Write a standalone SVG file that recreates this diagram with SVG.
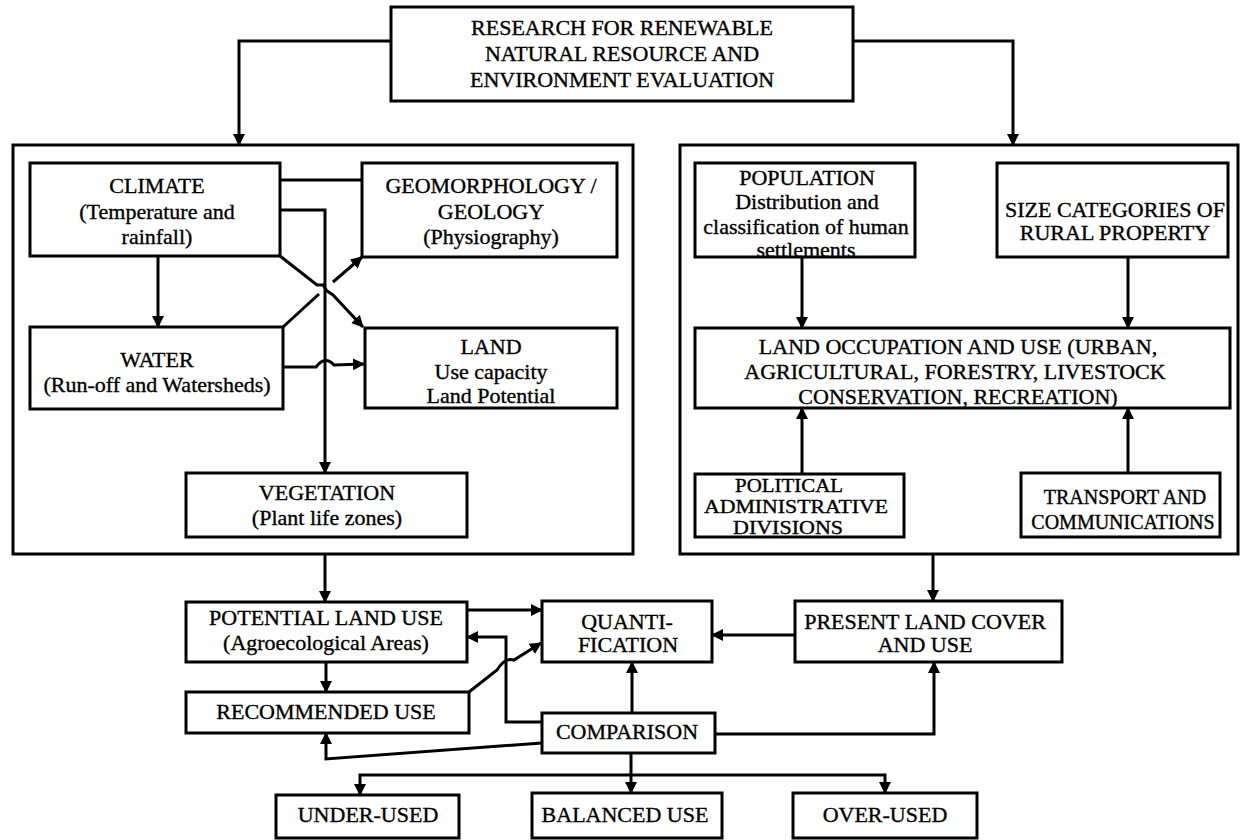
<svg xmlns="http://www.w3.org/2000/svg" width="1240" height="840" viewBox="0 0 1240 840">
<defs>
<marker id="ah" markerUnits="userSpaceOnUse" markerWidth="14" markerHeight="14" refX="11" refY="6" orient="auto">
<path d="M0,0 L12,6 L0,12 z" fill="#000"/>
</marker>
<style>
.box{fill:#fff;stroke:#000;stroke-width:3}
.outer{fill:none;stroke:#000;stroke-width:3}
.c{fill:none;stroke:#000;stroke-width:3}
.ca{fill:none;stroke:#000;stroke-width:3;marker-end:url(#ah)}
text{font-family:"Liberation Serif","Times New Roman",serif;font-size:22px;fill:#000;text-anchor:middle;stroke:#000;stroke-width:0.35}
.t20{font-size:20px}
.t18{font-size:18.5px}
</style>
</defs>
<rect width="1240" height="840" fill="#fff"/>

<g id="outer-left"><rect class="outer" x="13" y="145" width="620" height="409"/></g>
<g id="outer-right"><rect class="outer" x="680" y="145" width="558" height="409"/></g>

<g id="connectors">
<path class="ca" d="M391,41 H239 V145"/>
<path class="ca" d="M853,41 H1013 V145"/>
<path class="c" d="M280,180 H362"/>
<path class="ca" d="M280,210 H325 V473"/>
<path class="ca" d="M158,256 V327"/>
<path class="ca" d="M280,256 L317,285 L323,285 L327,291 L333,295 L363,327"/>
<path class="c" d="M283,327 L319,294"/>
<path class="ca" d="M333,282 L362,257"/>
<path class="ca" d="M283,367 H316 Q325,355 334,365 L364,364"/>
<path class="ca" d="M802,257 V328"/>
<path class="ca" d="M1128,257 V328"/>
<path class="ca" d="M802,474 V408"/>
<path class="ca" d="M1128,473 V408"/>
<path class="ca" d="M325,554 V602"/>
<path class="ca" d="M933,554 V601"/>
<path class="ca" d="M467,610 H542"/>
<path class="ca" d="M542,722 H506 V637 H467"/>
<path class="ca" d="M469,692 L497,670 Q505,657 514,660 L541,643"/>
<path class="ca" d="M326,662 V692"/>
<path class="ca" d="M542,743 L326,759 V733"/>
<path class="ca" d="M632,713 V662"/>
<path class="ca" d="M715,734 H934 V662"/>
<path class="ca" d="M795,635 H712"/>
<path class="ca" d="M631,753 V793"/>
<path class="ca" d="M631,775 H360 V795"/>
<path class="ca" d="M631,775 H885 V793"/>
</g>

<g id="research">
<rect class="box" x="391" y="7" width="462" height="94"/>
<text x="622" y="35">RESEARCH FOR RENEWABLE</text>
<text x="622" y="61">NATURAL RESOURCE AND</text>
<text x="622" y="87">ENVIRONMENT EVALUATION</text>
</g>

<g id="climate">
<rect class="box" x="30" y="163" width="250" height="93"/>
<text x="157" y="193">CLIMATE</text>
<text x="157" y="219">(Temperature and</text>
<text x="157" y="244">rainfall)</text>
</g>

<g id="geomorphology">
<rect class="box" x="362" y="163" width="255" height="94"/>
<text x="491" y="193">GEOMORPHOLOGY /</text>
<text x="491" y="219">GEOLOGY</text>
<text x="491" y="244">(Physiography)</text>
</g>

<g id="water">
<rect class="box" x="30" y="327" width="253" height="82"/>
<text x="157" y="367">WATER</text>
<text x="157" y="392">(Run-off and Watersheds)</text>
</g>

<g id="land">
<rect class="box" x="365" y="328" width="252" height="80"/>
<text x="491" y="354">LAND</text>
<text x="491" y="379">Use capacity</text>
<text x="491" y="403">Land Potential</text>
</g>

<g id="vegetation">
<rect class="box" x="186" y="473" width="281" height="64"/>
<text x="327" y="500">VEGETATION</text>
<text x="327" y="525">(Plant life zones)</text>
</g>

<g id="population">
<rect class="box" x="695" y="163" width="220" height="94"/>
<text x="807" y="185">POPULATION</text>
<text x="807" y="209">Distribution and</text>
<text x="806" y="234">classification of human</text>
<text x="806" y="257">settlements</text>
</g>

<g id="size-categories">
<rect class="box" x="997" y="163" width="231" height="94"/>
<text x="1115" y="217">SIZE CATEGORIES OF</text>
<text x="1115" y="240">RURAL PROPERTY</text>
</g>

<g id="land-occupation">
<rect class="box" x="695" y="328" width="535" height="80"/>
<text x="958" y="354">LAND OCCUPATION AND USE (URBAN,</text>
<text x="955" y="379">AGRICULTURAL, FORESTRY, LIVESTOCK</text>
<text x="958" y="404">CONSERVATION, RECREATION)</text>
</g>

<g id="political">
<rect class="box" x="695" y="474" width="209" height="63"/>
<text class="t18" x="789" y="492" textLength="108" lengthAdjust="spacingAndGlyphs">POLITICAL</text>
<text class="t18" x="796" y="513" textLength="184" lengthAdjust="spacingAndGlyphs">ADMINISTRATIVE</text>
<text class="t18" x="788" y="534" textLength="110" lengthAdjust="spacingAndGlyphs">DIVISIONS</text>
</g>

<g id="transport">
<rect class="box" x="1021" y="473" width="199" height="64"/>
<text class="t20" x="1125" y="504">TRANSPORT AND</text>
<text class="t20" x="1123" y="529">COMMUNICATIONS</text>
</g>

<g id="potential-land-use">
<rect class="box" x="186" y="602" width="281" height="60"/>
<text x="326" y="625">POTENTIAL LAND USE</text>
<text x="326" y="650">(Agroecological Areas)</text>
</g>

<g id="quantification">
<rect class="box" x="542" y="601" width="170" height="61"/>
<text x="627" y="629">QUANTI-</text>
<text x="628" y="652">FICATION</text>
</g>

<g id="present-land-cover">
<rect class="box" x="795" y="601" width="267" height="61"/>
<text x="925" y="629">PRESENT LAND COVER</text>
<text x="925" y="652">AND USE</text>
</g>

<g id="recommended-use">
<rect class="box" x="186" y="692" width="283" height="41"/>
<text x="326" y="719">RECOMMENDED USE</text>
</g>

<g id="comparison">
<rect class="box" x="542" y="713" width="173" height="40"/>
<text x="627" y="739">COMPARISON</text>
</g>

<g id="under-used">
<rect class="box" x="276" y="795" width="183" height="43"/>
<text x="368" y="822">UNDER-USED</text>
</g>

<g id="balanced-use">
<rect class="box" x="532" y="793" width="190" height="45"/>
<text x="625" y="822">BALANCED USE</text>
</g>

<g id="over-used">
<rect class="box" x="793" y="793" width="184" height="45"/>
<text x="885" y="822">OVER-USED</text>
</g>
</svg>
